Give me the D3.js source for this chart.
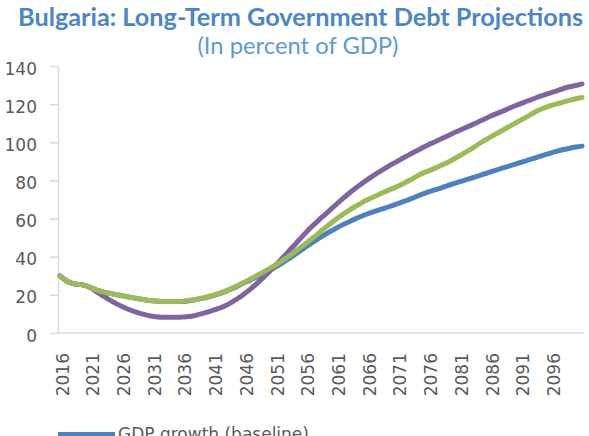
<!DOCTYPE html>
<html>
<head>
<meta charset="utf-8">
<script src="https://cdn.jsdelivr.net/npm/d3@7"></script>
<style>
  html, body { margin: 0; padding: 0; background: #ffffff; }
  svg { display: block; }
</style>
</head>
<body>
<svg id="chart" width="589" height="436"></svg>
<script>
// ---- data ----
const titleText = "Bulgaria: Long-Term Government Debt Projections";
const subtitleText = "(In percent of GDP)";
const years = d3.range(2016, 2102); // 2016 ... 2101
const xLabelYears = d3.range(2016, 2097, 5);
const yTicks = [0, 20, 40, 60, 80, 100, 120, 140];

const seriesNames = ["GDP growth (baseline)", "Scenario 2", "Scenario 3"];
const seriesColors = ["#4F81BD", "#8064A2", "#9BBB59"];

const baseline = [
  30, 27.5, 26, 25.5, 25, 23.8, 22.5, 21.6, 20.9, 20.2,
  19.6, 19, 18.4, 17.8, 17.3, 16.9, 16.6, 16.5, 16.5, 16.5,
  16.5, 16.9, 17.4, 18, 18.7, 19.6, 20.6, 21.8, 23.2, 24.7,
  26.3, 27.8, 29.3, 30.9, 32.6, 34.4, 36.3, 38.4, 40.6, 42.8,
  45, 47.2, 49.3, 51.3, 53.2, 55, 56.7, 58.2, 59.7, 61.1,
  62.4, 63.5, 64.6, 65.6, 66.7, 67.8, 69, 70.2, 71.5, 72.8,
  74, 75, 76, 77.2, 78.2, 79.2, 80.2, 81.2, 82.3, 83.3,
  84.3, 85.4, 86.4, 87.4, 88.4, 89.4, 90.4, 91.4, 92.5, 93.5,
  94.5, 95.4, 96.2, 96.9, 97.5, 98
];
const scenarioPurple = [
  30, 27.5, 26, 25.5, 25, 23.8, 21.5, 19.5, 17.5, 15.7,
  14, 12.6, 11.4, 10.3, 9.5, 8.8, 8.4, 8.3, 8.3, 8.3,
  8.4, 8.6, 9.2, 10, 11, 12, 13, 14.4, 16.2, 18.2,
  20.5, 23, 25.8, 28.8, 31.9, 35.2, 38.5, 42, 45.5, 49,
  52.5, 55.8, 58.8, 61.7, 64.6, 67.5, 70.3, 73, 75.6, 78,
  80.3, 82.5, 84.5, 86.5, 88.4, 90.2, 92, 93.7, 95.4, 97.1,
  98.7, 100.2, 101.7, 103.2, 104.7, 106.2, 107.6, 109, 110.5, 112,
  113.5, 114.9, 116.2, 117.6, 119, 120.3, 121.5, 122.7, 123.9, 125,
  126.1, 127.1, 128.2, 129.1, 129.8, 130.6
];
const scenarioGreen = [
  30, 27.5, 26, 25.5, 25, 23.8, 22.5, 21.6, 20.9, 20.2,
  19.6, 19, 18.4, 17.8, 17.3, 16.9, 16.6, 16.5, 16.5, 16.5,
  16.7, 17.1, 17.6, 18.2, 19, 19.9, 20.9, 22.1, 23.5, 25,
  26.6, 28.3, 30, 31.8, 33.6, 35.5, 37.5, 39.7, 42, 44.4,
  46.9, 49.4, 52, 54.7, 57.3, 59.8, 62.1, 64.2, 66.2, 68,
  69.7, 71.3, 72.8, 74.2, 75.6, 76.9, 78.5, 80.2, 82, 83.7,
  85, 86.3, 87.8, 89.3, 91, 92.8, 94.7, 96.6, 98.7, 100.7,
  102.6, 104.4, 106.2, 108, 109.8, 111.6, 113.3, 115.2, 116.9, 118.2,
  119.3, 120.3, 121.1, 122, 122.8, 123.5
];

// ---- layout ----
const svg = d3.select("#chart");
const axisColor = "#D9D9D9";
const textColor = "#595959";
const tickFont = "'DejaVu Sans', sans-serif";

const x = d3.scaleLinear().domain([2016, 2101]).range([60, 582]);
const y = d3.scaleLinear().domain([0, 140]).range([333, 66]);
const axisX = 58, axisRight = 584;

// title
function fitText(sel, width) {
  let fs = parseFloat(sel.attr("font-size"));
  const w = sel.node().getComputedTextLength();
  sel.attr("font-size", (fs * width / w).toFixed(2));
}
const title = svg.append("text")
  .attr("x", 300.5).attr("y", 26)
  .attr("text-anchor", "middle")
  .attr("font-family", "Lato, 'Open Sans', sans-serif")
  .attr("font-weight", "bold")
  .attr("font-size", 21)
  .attr("fill", "#4A86C8")
  .text(titleText);
fitText(title, 565);

const subtitle = svg.append("text")
  .attr("x", 298).attr("y", 54)
  .attr("text-anchor", "middle")
  .attr("font-family", "Lato, 'Open Sans', sans-serif")
  .attr("font-size", 19)
  .attr("fill", "#5B9BD5")
  .text(subtitleText);
fitText(subtitle, 201);

// y axis
const yAxis = svg.append("g")
  .attr("transform", `translate(${axisX},0)`)
  .call(d3.axisLeft(y).tickValues(yTicks).tickSize(8).tickSizeOuter(0).tickPadding(13));
yAxis.select(".domain").attr("stroke", axisColor).attr("stroke-width", 1.5);
yAxis.selectAll(".tick line").attr("stroke", axisColor).attr("stroke-width", 1.5);
yAxis.selectAll(".tick text")
  .attr("fill", textColor)
  .attr("font-family", tickFont)
  .attr("font-size", 17)
  .attr("dy", 8);

// x axis
const xAxis = svg.append("g")
  .attr("transform", `translate(0,${y(0)})`)
  .call(d3.axisBottom(x).tickValues(xLabelYears).tickSize(0).tickFormat(d3.format("d")));
xAxis.select(".domain").remove();
xAxis.selectAll(".tick text")
  .attr("fill", textColor)
  .attr("font-family", tickFont)
  .attr("font-size", 17)
  .attr("transform", "rotate(-90)")
  .attr("text-anchor", "end")
  .attr("x", -20)
  .attr("y", 2)
  .attr("dy", "0.36em");
svg.append("line")
  .attr("x1", axisX).attr("x2", axisRight)
  .attr("y1", y(0)).attr("y2", y(0))
  .attr("stroke", axisColor).attr("stroke-width", 1.5);

// lines
const allSeries = [baseline, scenarioPurple, scenarioGreen];
const line = d3.line()
  .x((d, i) => x(years[i]))
  .y(d => y(d))
  .curve(d3.curveMonotoneX);
svg.append("g").selectAll("path")
  .data(allSeries)
  .join("path")
  .attr("d", d => line(d))
  .attr("fill", "none")
  .attr("stroke", (d, i) => seriesColors[i])
  .attr("stroke-width", 5)
  .attr("stroke-linecap", "round")
  .attr("stroke-linejoin", "round");

// legend (only the first entry is visible in the frame)
const lg = svg.append("g");
lg.append("line")
  .attr("x1", 58).attr("x2", 115)
  .attr("y1", 434.5).attr("y2", 434.5)
  .attr("stroke", seriesColors[0]).attr("stroke-width", 5);
lg.append("text")
  .attr("x", 118).attr("y", 439.5)
  .attr("font-family", tickFont)
  .attr("font-size", 17)
  .attr("fill", textColor)
  .text(seriesNames[0]);
</script>
</body>
</html>
